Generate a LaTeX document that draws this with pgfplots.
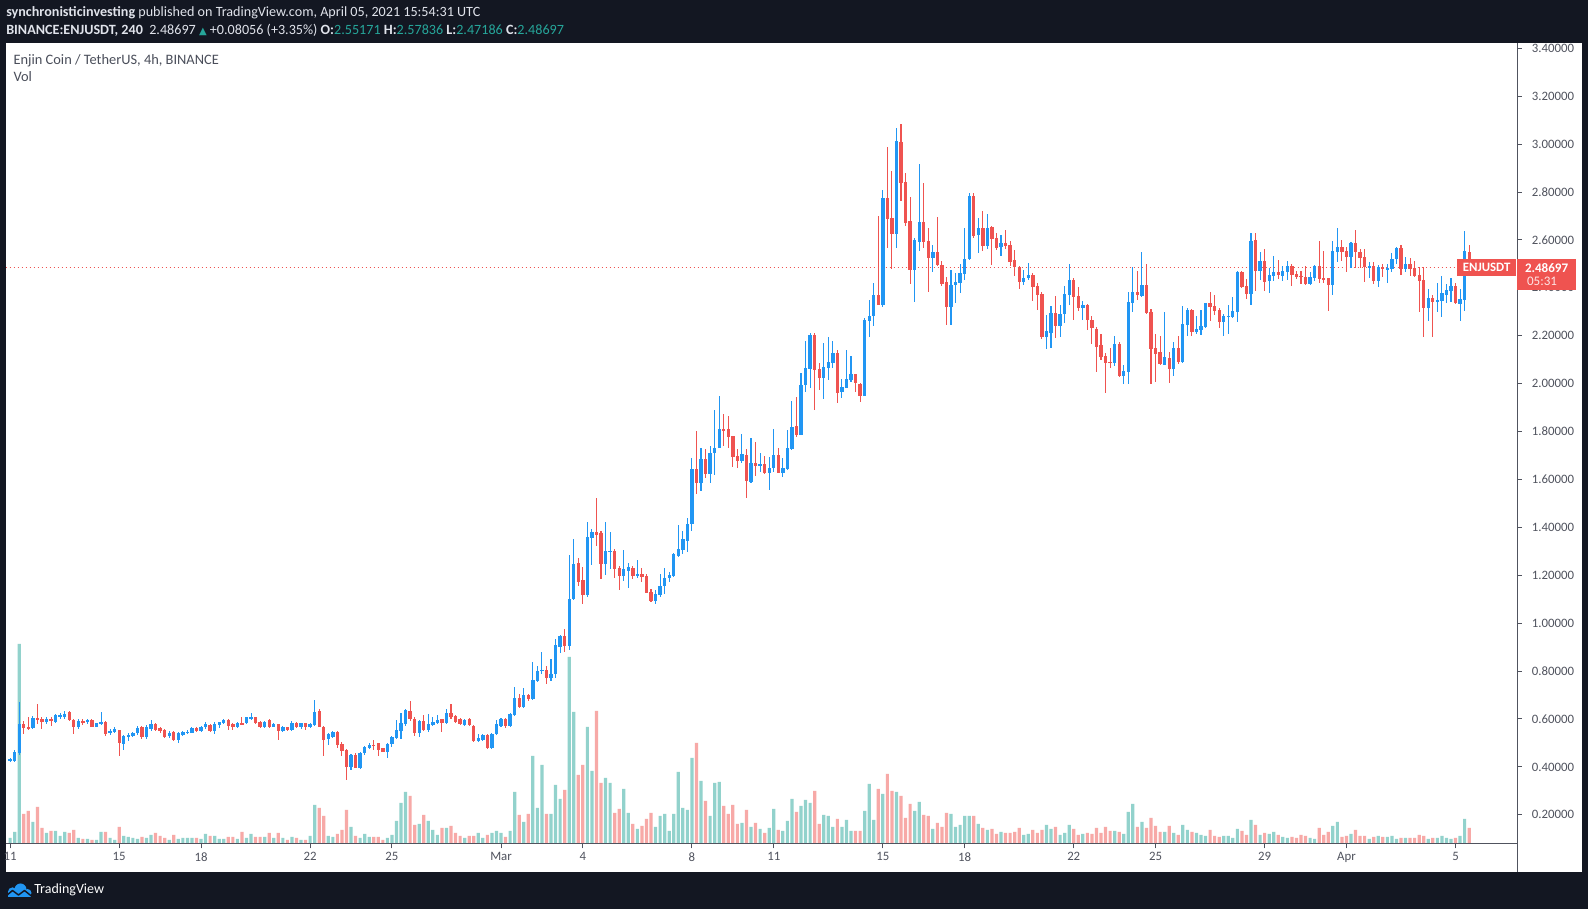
\documentclass[border=0pt]{standalone}
\usepackage{fontspec}
\setmainfont{Carlito}
\newfontfamily\symfont{DejaVu Sans}
\usepackage{pgfplots}
\pgfplotsset{compat=1.18}
\usepackage{pgfplotstable}
\definecolor{bgdark}{HTML}{131722}
\definecolor{cUp}{HTML}{2196F3}
\definecolor{cDn}{HTML}{EF5350}
\definecolor{vUp}{HTML}{92D2CC}
\definecolor{vDn}{HTML}{F7A9A7}
\definecolor{tvteal}{HTML}{26A69A}
\definecolor{axc}{HTML}{50535E}
\definecolor{hdr}{HTML}{E0E3EB}
\definecolor{lgd}{HTML}{4A4E5A}

\pgfplotstableread{
i o h l c v
0 0.425 0.437 0.420 0.432 6
1 0.426 0.470 0.420 0.461 12
2 0.457 0.671 0.450 0.579 200
3 0.579 0.590 0.537 0.561 30
4 0.565 0.610 0.554 0.558 33
5 0.561 0.613 0.558 0.606 22
6 0.603 0.663 0.578 0.596 37
7 0.600 0.610 0.558 0.589 16
8 0.589 0.610 0.580 0.600 11
9 0.600 0.610 0.569 0.590 13
10 0.589 0.620 0.585 0.617 13
11 0.610 0.625 0.600 0.617 8
12 0.610 0.635 0.600 0.621 12
13 0.630 0.635 0.590 0.596 11
14 0.596 0.600 0.537 0.565 14
15 0.565 0.600 0.560 0.590 6
16 0.593 0.600 0.575 0.582 5
17 0.588 0.600 0.580 0.597 5
18 0.597 0.600 0.565 0.568 4
19 0.568 0.585 0.565 0.582 4
20 0.580 0.630 0.574 0.586 12
21 0.586 0.590 0.530 0.536 12
22 0.540 0.560 0.533 0.551 6
23 0.547 0.565 0.543 0.557 4
24 0.554 0.556 0.446 0.499 17
25 0.496 0.533 0.471 0.529 8
26 0.526 0.540 0.510 0.533 7
27 0.530 0.545 0.523 0.542 6
28 0.540 0.570 0.535 0.564 5
29 0.565 0.571 0.515 0.526 7
30 0.526 0.575 0.515 0.565 6
31 0.560 0.595 0.550 0.580 9
32 0.580 0.585 0.550 0.555 11
33 0.561 0.566 0.540 0.550 8
34 0.554 0.558 0.522 0.526 6
35 0.529 0.550 0.520 0.543 4
36 0.547 0.550 0.509 0.512 9
37 0.512 0.547 0.500 0.540 5
38 0.533 0.550 0.530 0.547 6
39 0.543 0.552 0.537 0.547 6
40 0.543 0.565 0.540 0.561 6
41 0.561 0.565 0.545 0.550 6
42 0.550 0.571 0.546 0.568 5
43 0.565 0.589 0.560 0.578 10
44 0.575 0.580 0.547 0.550 8
45 0.550 0.589 0.537 0.580 8
46 0.575 0.589 0.563 0.586 5
47 0.582 0.600 0.578 0.596 5
48 0.596 0.600 0.554 0.571 7
49 0.579 0.582 0.554 0.568 7
50 0.568 0.589 0.561 0.584 5
51 0.582 0.607 0.575 0.578 12
52 0.582 0.610 0.578 0.607 6
53 0.603 0.627 0.596 0.607 10
54 0.607 0.610 0.578 0.582 7
55 0.589 0.593 0.563 0.568 7
56 0.565 0.593 0.561 0.589 7
57 0.596 0.600 0.561 0.565 11
58 0.568 0.582 0.565 0.579 6
59 0.578 0.580 0.512 0.551 11
60 0.550 0.571 0.547 0.565 6
61 0.565 0.568 0.550 0.554 4
62 0.554 0.592 0.550 0.584 7
63 0.584 0.589 0.561 0.565 6
64 0.568 0.585 0.560 0.582 4
65 0.582 0.585 0.554 0.568 4
66 0.568 0.582 0.561 0.578 8
67 0.574 0.679 0.571 0.631 39
68 0.634 0.640 0.565 0.568 36
69 0.568 0.570 0.446 0.512 28
70 0.515 0.540 0.491 0.536 8
71 0.523 0.550 0.520 0.547 7
72 0.547 0.550 0.478 0.491 10
73 0.495 0.505 0.446 0.468 14
74 0.470 0.473 0.345 0.401 34
75 0.398 0.454 0.387 0.450 17
76 0.450 0.457 0.394 0.397 8
77 0.397 0.461 0.391 0.457 6
78 0.457 0.487 0.450 0.484 10
79 0.480 0.498 0.474 0.492 7
80 0.492 0.512 0.470 0.487 7
81 0.498 0.501 0.447 0.470 7
82 0.478 0.480 0.461 0.464 4
83 0.464 0.498 0.439 0.496 6
84 0.496 0.529 0.485 0.526 9
85 0.520 0.596 0.515 0.554 23
86 0.550 0.624 0.517 0.582 41
87 0.578 0.642 0.571 0.638 52
88 0.634 0.675 0.593 0.600 48
89 0.600 0.607 0.529 0.543 19
90 0.543 0.596 0.523 0.592 20
91 0.592 0.617 0.551 0.554 29
92 0.554 0.620 0.547 0.578 23
93 0.575 0.610 0.570 0.586 14
94 0.584 0.617 0.579 0.596 9
95 0.598 0.600 0.547 0.582 16
96 0.582 0.640 0.579 0.624 16
97 0.626 0.662 0.602 0.607 18
98 0.613 0.617 0.585 0.589 11
99 0.600 0.603 0.574 0.579 8
100 0.575 0.600 0.571 0.596 6
101 0.601 0.604 0.571 0.575 8
102 0.571 0.573 0.505 0.510 8
103 0.510 0.536 0.505 0.519 11
104 0.512 0.536 0.510 0.533 6
105 0.533 0.536 0.476 0.480 9
106 0.480 0.540 0.475 0.536 11
107 0.536 0.596 0.533 0.579 13
108 0.571 0.603 0.565 0.600 11
109 0.600 0.603 0.561 0.571 7
110 0.571 0.624 0.568 0.621 13
111 0.617 0.735 0.613 0.689 52
112 0.689 0.705 0.645 0.649 29
113 0.649 0.728 0.645 0.700 22
114 0.700 0.705 0.677 0.683 30
115 0.682 0.839 0.680 0.763 88
116 0.759 0.821 0.755 0.800 36
117 0.800 0.880 0.786 0.806 79
118 0.806 0.821 0.748 0.773 30
119 0.773 0.850 0.760 0.788 30
120 0.786 0.934 0.773 0.909 59
121 0.902 0.952 0.874 0.947 45
122 0.947 0.976 0.881 0.906 54
123 0.906 1.285 0.888 1.100 187
124 1.100 1.352 1.097 1.247 132
125 1.250 1.271 1.155 1.173 69
126 1.180 1.233 1.080 1.118 79
127 1.118 1.422 1.111 1.358 117
128 1.357 1.392 1.243 1.381 73
129 1.381 1.523 1.322 1.368 133
130 1.378 1.385 1.186 1.249 61
131 1.249 1.422 1.201 1.301 66
132 1.300 1.381 1.226 1.302 61
133 1.300 1.310 1.190 1.226 31
134 1.230 1.239 1.139 1.197 35
135 1.197 1.306 1.176 1.226 55
136 1.220 1.251 1.147 1.235 31
137 1.232 1.239 1.185 1.198 20
138 1.198 1.264 1.189 1.205 15
139 1.205 1.230 1.173 1.194 18
140 1.197 1.205 1.125 1.127 25
141 1.130 1.143 1.090 1.094 31
142 1.094 1.139 1.080 1.122 17
143 1.118 1.205 1.111 1.155 28
144 1.155 1.232 1.122 1.189 30
145 1.190 1.214 1.170 1.201 13
146 1.197 1.292 1.194 1.289 30
147 1.280 1.410 1.275 1.310 72
148 1.306 1.385 1.289 1.352 36
149 1.345 1.438 1.297 1.414 34
150 1.414 1.688 1.386 1.642 86
151 1.642 1.803 1.540 1.587 101
152 1.587 1.730 1.553 1.684 63
153 1.684 1.727 1.608 1.622 43
154 1.622 1.741 1.587 1.709 28
155 1.709 1.890 1.619 1.730 61
156 1.733 1.949 1.730 1.810 62
157 1.810 1.872 1.740 1.807 38
158 1.810 1.865 1.733 1.779 30
159 1.782 1.782 1.651 1.695 39
160 1.698 1.726 1.650 1.677 20
161 1.677 1.790 1.670 1.706 21
162 1.702 1.727 1.524 1.594 34
163 1.588 1.772 1.584 1.667 17
164 1.667 1.755 1.616 1.656 21
165 1.656 1.709 1.630 1.665 15
166 1.665 1.698 1.623 1.626 11
167 1.628 1.693 1.556 1.646 16
168 1.646 1.810 1.633 1.702 35
169 1.702 1.730 1.628 1.628 14
170 1.628 1.688 1.610 1.646 13
171 1.642 1.807 1.640 1.730 23
172 1.727 1.928 1.724 1.821 45
173 1.823 1.944 1.779 1.786 32
174 1.786 2.046 1.786 1.995 38
175 1.995 2.178 1.967 2.064 44
176 2.061 2.210 1.983 2.203 41
177 2.203 2.213 1.890 2.057 53
178 2.060 2.088 1.974 2.025 20
179 2.025 2.171 1.936 2.071 29
180 2.067 2.196 2.016 2.092 28
181 2.088 2.178 2.064 2.130 17
182 2.130 2.141 1.918 1.963 25
183 1.965 2.018 1.942 1.985 17
184 1.983 2.141 1.981 2.020 24
185 2.015 2.116 2.008 2.040 13
186 2.040 2.040 1.967 2.002 13
187 2.000 2.004 1.925 1.950 13
188 1.950 2.273 1.949 2.266 33
189 2.263 2.350 2.193 2.283 60
190 2.284 2.419 2.242 2.370 24
191 2.370 2.700 2.329 2.329 55
192 2.329 2.809 2.322 2.777 50
193 2.777 2.990 2.568 2.688 70
194 2.693 2.888 2.479 2.625 53
195 2.625 3.069 2.568 3.013 52
196 3.010 3.084 2.764 2.839 48
197 2.843 2.881 2.660 2.672 26
198 2.681 2.778 2.416 2.475 40
199 2.475 2.610 2.343 2.600 33
200 2.593 2.917 2.554 2.677 42
201 2.677 2.839 2.565 2.593 29
202 2.596 2.652 2.384 2.526 28
203 2.526 2.579 2.468 2.548 15
204 2.548 2.697 2.491 2.496 21
205 2.496 2.512 2.409 2.416 17
206 2.423 2.447 2.245 2.322 31
207 2.322 2.475 2.245 2.412 30
208 2.410 2.461 2.338 2.423 17
209 2.422 2.500 2.380 2.461 19
210 2.457 2.649 2.433 2.521 28
211 2.519 2.795 2.516 2.784 28
212 2.784 2.798 2.607 2.617 28
213 2.621 2.690 2.547 2.652 20
214 2.652 2.722 2.555 2.575 16
215 2.575 2.708 2.561 2.652 14
216 2.656 2.659 2.495 2.604 15
217 2.610 2.628 2.558 2.568 10
218 2.572 2.621 2.535 2.589 12
219 2.589 2.642 2.561 2.576 11
220 2.579 2.596 2.491 2.510 11
221 2.516 2.558 2.450 2.486 12
222 2.486 2.491 2.395 2.425 16
223 2.425 2.475 2.412 2.443 9
224 2.440 2.505 2.433 2.455 10
225 2.455 2.464 2.347 2.405 14
226 2.409 2.422 2.308 2.370 11
227 2.376 2.384 2.188 2.196 14
228 2.196 2.287 2.143 2.220 19
229 2.213 2.324 2.150 2.297 15
230 2.297 2.368 2.191 2.242 17
231 2.242 2.329 2.196 2.291 9
232 2.290 2.408 2.252 2.375 11
233 2.370 2.500 2.329 2.433 19
234 2.433 2.440 2.266 2.363 15
235 2.366 2.405 2.303 2.318 9
236 2.317 2.345 2.266 2.329 10
237 2.329 2.333 2.224 2.266 11
238 2.266 2.283 2.166 2.231 10
239 2.227 2.238 2.050 2.155 16
240 2.161 2.207 2.099 2.113 11
241 2.115 2.127 1.963 2.088 17
242 2.090 2.148 2.064 2.087 13
243 2.085 2.199 2.074 2.166 13
244 2.166 2.175 2.026 2.032 12
245 2.034 2.078 1.999 2.053 10
246 2.050 2.384 1.999 2.343 32
247 2.338 2.489 2.301 2.384 40
248 2.384 2.472 2.350 2.370 17
249 2.366 2.551 2.363 2.412 22
250 2.412 2.500 2.291 2.294 16
251 2.301 2.310 1.999 2.145 26
252 2.150 2.208 2.006 2.124 18
253 2.134 2.199 2.078 2.081 12
254 2.078 2.301 2.078 2.113 12
255 2.109 2.134 2.001 2.061 18
256 2.061 2.175 2.032 2.150 11
257 2.150 2.199 2.082 2.089 9
258 2.089 2.324 2.085 2.249 19
259 2.245 2.315 2.199 2.308 14
260 2.308 2.311 2.199 2.217 12
261 2.217 2.283 2.208 2.228 11
262 2.224 2.308 2.203 2.241 9
263 2.235 2.338 2.231 2.336 8
264 2.336 2.384 2.262 2.322 14
265 2.324 2.370 2.287 2.305 8
266 2.308 2.315 2.234 2.259 7
267 2.259 2.290 2.199 2.283 8
268 2.280 2.329 2.208 2.283 8
269 2.280 2.361 2.273 2.304 6
270 2.301 2.472 2.259 2.468 15
271 2.468 2.472 2.398 2.405 13
272 2.408 2.436 2.354 2.374 9
273 2.374 2.628 2.329 2.596 24
274 2.600 2.628 2.387 2.472 19
275 2.472 2.548 2.433 2.512 9
276 2.512 2.562 2.387 2.426 11
277 2.429 2.482 2.380 2.454 10
278 2.450 2.533 2.429 2.467 12
279 2.467 2.517 2.437 2.454 9
280 2.450 2.493 2.429 2.470 7
281 2.467 2.512 2.433 2.493 6
282 2.493 2.500 2.408 2.454 7
283 2.458 2.470 2.437 2.447 6
284 2.450 2.470 2.416 2.447 9
285 2.447 2.493 2.412 2.416 8
286 2.416 2.467 2.412 2.447 6
287 2.443 2.496 2.430 2.493 5
288 2.493 2.596 2.422 2.436 16
289 2.440 2.554 2.419 2.436 9
290 2.440 2.443 2.304 2.410 12
291 2.410 2.596 2.370 2.554 18
292 2.551 2.649 2.507 2.572 22
293 2.572 2.600 2.514 2.548 7
294 2.554 2.572 2.465 2.530 8
295 2.530 2.593 2.482 2.589 10
296 2.589 2.642 2.482 2.548 14
297 2.551 2.562 2.484 2.526 8
298 2.528 2.562 2.426 2.486 8
299 2.486 2.510 2.443 2.491 5
300 2.491 2.507 2.416 2.430 7
301 2.430 2.496 2.405 2.486 8
302 2.488 2.498 2.447 2.478 7
303 2.478 2.498 2.422 2.482 7
304 2.480 2.547 2.465 2.521 8
305 2.519 2.572 2.498 2.565 5
306 2.568 2.579 2.454 2.478 6
307 2.478 2.530 2.465 2.498 6
308 2.498 2.526 2.451 2.478 6
309 2.485 2.514 2.447 2.451 6
310 2.454 2.489 2.301 2.429 9
311 2.433 2.489 2.196 2.315 8
312 2.315 2.395 2.262 2.359 5
313 2.359 2.370 2.196 2.340 6
314 2.340 2.419 2.301 2.350 6
315 2.345 2.450 2.280 2.377 8
316 2.370 2.415 2.335 2.391 6
317 2.388 2.440 2.340 2.409 5
318 2.409 2.419 2.331 2.338 6
319 2.334 2.395 2.262 2.353 8
320 2.350 2.638 2.305 2.552 25
321 2.55171 2.57836 2.47186 2.48697 16
}\data

\begin{document}
\begin{tikzpicture}
\begin{scope}[x=0.75pt,y=0.75pt]
\fill[bgdark] (0,0) rectangle (1588,909);
\fill[white] (6,37) rectangle (1582,866);
\end{scope}
\begin{axis}[
  at={(4.5pt,48.75pt)}, anchor=south west,
  scale only axis, width=1133.5pt, height=600.75pt,
  xmin=-0.909, xmax=331.6, ymin=0.0781, ymax=3.4225,
  axis line style={draw=none},
  xtick={0,24,42,66,84,108,126,150,168,192,210,234,252,276,294,318},
  xticklabels={11,15,18,22,25,Mar,4,8,11,15,18,22,25,29,Apr,5},
  ytick={0.2,0.4,0.6,0.8,1.0,1.2,1.4,1.6,1.8,2.0,2.2,2.4,2.6,2.8,3.0,3.2,3.4},
  yticklabels={0.20000,0.40000,0.60000,0.80000,1.00000,1.20000,1.40000,1.60000,1.80000,2.00000,2.20000,2.40000,2.60000,2.80000,3.00000,3.20000,3.40000},
  xtick pos=left, ytick pos=right, yticklabel pos=right,
  tick align=outside, major tick length=3.2pt,
  tick style={draw=axc, line width=0.75pt},
  ticklabel style={font=\fontsize{9.6}{11}\selectfont, text=axc},
  yticklabel style={anchor=west, inner sep=0pt, xshift=7.5pt},
  xticklabel style={anchor=north, inner sep=0pt, yshift=-3pt},
  restrict y to domain=-50:50,
]
% volume
\addplot[ybar, bar width=2.4pt, bar shift=0pt, fill=vUp, draw=none]
  table[x=i, y expr={\thisrow{c}>=\thisrow{o} ? 0.0781+\thisrow{v}/239.5 : 1000}] {\data};
\addplot[ybar, bar width=2.4pt, bar shift=0pt, fill=vDn, draw=none]
  table[x=i, y expr={\thisrow{c}<\thisrow{o} ? 0.0781+\thisrow{v}/239.5 : 1000}] {\data};
% last price line
\addplot[cDn, line width=0.75pt, dash pattern=on 0.8pt off 2.2pt]
  coordinates {(-1,2.48697) (318.3,2.48697)};
% wicks
\addplot[draw=none, mark=none,
  error bars/.cd, y dir=both, y explicit, error mark=none,
  error bar style={line width=0.8pt, draw=cUp, solid}]
  table[x=i, y expr={\thisrow{c}>=\thisrow{o} ? (\thisrow{h}+\thisrow{l})/2 : 1000}, y error expr={(\thisrow{h}-\thisrow{l})/2}] {\data};
\addplot[draw=none, mark=none,
  error bars/.cd, y dir=both, y explicit, error mark=none,
  error bar style={line width=0.8pt, draw=cDn, solid}]
  table[x=i, y expr={\thisrow{c}<\thisrow{o} ? (\thisrow{h}+\thisrow{l})/2 : 1000}, y error expr={(\thisrow{h}-\thisrow{l})/2}] {\data};
% bodies
\addplot[draw=none, mark=none,
  error bars/.cd, y dir=both, y explicit, error mark=none,
  error bar style={line width=2.5pt, draw=cUp, solid}]
  table[x=i, y expr={\thisrow{c}>=\thisrow{o} ? (\thisrow{o}+\thisrow{c})/2 : 1000}, y error expr={max(abs(\thisrow{c}-\thisrow{o})/2,0.0021)}] {\data};
\addplot[draw=none, mark=none,
  error bars/.cd, y dir=both, y explicit, error mark=none,
  error bar style={line width=2.5pt, draw=cDn, solid}]
  table[x=i, y expr={\thisrow{c}<\thisrow{o} ? (\thisrow{o}+\thisrow{c})/2 : 1000}, y error expr={max(abs(\thisrow{c}-\thisrow{o})/2,0.0021)}] {\data};
\end{axis}
\begin{scope}[x=0.75pt,y=0.75pt]
% axis lines
\draw[axc, line width=0.75pt] (6,65) -- (1517.3,65);
\draw[axc, line width=0.75pt] (1517.3,37) -- (1517.3,866);
% price labels
\fill[cDn] (1457.3,633) rectangle (1516,649.7);
\node[text=white, font=\fontsize{9.6}{11}\selectfont\bfseries, inner sep=0pt] at (1486.6,641.3) {ENJUSDT};
\fill[cDn] (1517.3,619) rectangle (1576,649.7);
\node[text=white, font=\fontsize{9.8}{11}\selectfont\bfseries, inner sep=0pt] at (1546.6,641.3) {2.48697};
\node[text=white!85!cDn, font=\fontsize{9.8}{11}\selectfont, inner sep=0pt] at (1542,627.3) {05:31};
% header
\node[anchor=base west, inner sep=0pt, text=hdr, font=\fontsize{10.6}{12}\selectfont] at (6,892.3)
  {\textbf{synchronisticinvesting} published on TradingView.com, April 05, 2021 15:54:31 UTC};
\node[anchor=base west, inner sep=0pt, text=hdr, font=\fontsize{10.6}{12}\selectfont] at (6,874.7)
  {\textbf{BINANCE:ENJUSDT, 240}\ \ 2.48697 {\color{tvteal}\symfont\fontsize{7.5}{8}\selectfont ▲} +0.08056 (+3.35\%) \textbf{O:}{\color{tvteal}2.55171} \textbf{H:}{\color{tvteal}2.57836} \textbf{L:}{\color{tvteal}2.47186} \textbf{C:}{\color{tvteal}2.48697}};
% legend
\node[anchor=base west, inner sep=0pt, text=lgd, font=\fontsize{10.8}{12}\selectfont] at (13.3,844)
  {Enjin Coin / TetherUS, 4h, BINANCE};
\node[anchor=base west, inner sep=0pt, text=lgd, font=\fontsize{10.8}{12}\selectfont] at (13.3,827.3) {Vol};
% footer logo
\fill[cUp] (8,12) rectangle (31,17);
\fill[cUp] (12.5,17) circle (4.6);
\fill[cUp] (20.5,19.5) circle (6);
\fill[cUp] (27.5,16) circle (4);
\draw[bgdark, line width=1.1pt, line join=round] (6,13) -- (12.5,18.5) -- (18.5,14) -- (24.5,18.5) -- (32,12.5);
\node[anchor=base west, inner sep=0pt, text=white, font=\fontsize{10.5}{12}\selectfont] at (34,15) {TradingView};
\end{scope}
\end{tikzpicture}
\end{document}
